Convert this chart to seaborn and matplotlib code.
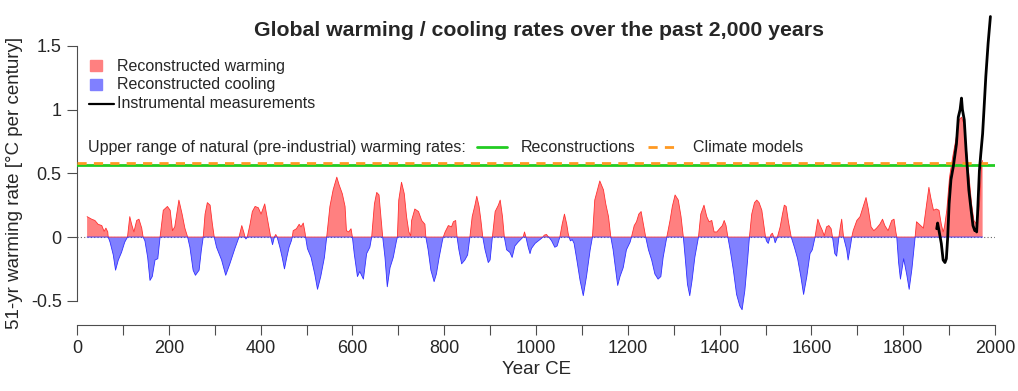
import numpy as np
import matplotlib
matplotlib.use("Agg")
import matplotlib.pyplot as plt
import seaborn as sns
from matplotlib.patches import Rectangle
from matplotlib.lines import Line2D

# 51-yr warming rates (deg C per century)
rec_years = [22, 32, 39, 46, 54, 59, 63, 67, 68,
             72, 79, 84, 90, 97, 104, 110,
             115, 119, 124, 130, 135, 141, 144,
             148, 154, 159, 164, 170, 176, 181,
             188, 197, 203, 208, 213, 222, 229, 235, 241,
             246, 253, 258, 266, 271, 275,
             279, 284, 290, 295, 299,
             304, 315, 324, 333, 344, 353,
             359, 364, 366, 368, 371,
             377, 382, 388, 395, 401, 409, 415, 422,
             426, 430, 433, 436,
             442, 447, 452, 457, 462, 467, 469,
             471, 478, 484, 488, 493, 497, 498,
             502, 510, 518, 524, 531, 539, 544,
             551, 558, 566, 571, 578, 584, 587, 592, 597, 600,
             604, 611, 616, 624, 631, 638, 642,
             648, 653, 658, 662, 666,
             671, 676, 682, 689, 696, 698,
             701, 707, 713, 718, 723, 727, 729, 736, 744, 751, 758, 760,
             765, 771, 778, 783, 789, 796, 798,
             802, 809, 816, 820, 825, 828,
             832, 838, 845, 851, 856,
             861, 867, 871, 876, 880, 884,
             889, 896, 900, 905,
             911, 918, 922, 927, 931,
             936, 943, 948, 954, 961, 969, 972,
             975, 978,
             983, 987, 990, 998, 1005, 1012, 1015,
             1018, 1023, 1026, 1028,
             1034, 1041, 1046, 1052,
             1057, 1062, 1067, 1070, 1072,
             1075, 1079, 1083, 1089, 1096, 1103, 1110, 1118, 1123,
             1128, 1134, 1139, 1147, 1152, 1158, 1163,
             1168, 1173, 1178, 1183, 1190, 1197, 1205, 1208,
             1214, 1219, 1224, 1229, 1234, 1239,
             1245, 1252, 1259, 1266, 1272, 1277, 1285,
             1292, 1297, 1303, 1310, 1316, 1321,
             1325, 1330, 1335, 1340, 1346, 1354,
             1359, 1366, 1372, 1377, 1383, 1388, 1394, 1401, 1406, 1410, 1414, 1418,
             1423, 1430, 1437, 1444, 1449, 1455, 1461, 1465,
             1470, 1476, 1481, 1486, 1492, 1497, 1500,
             1502, 1506, 1510, 1512, 1515, 1518, 1521, 1524, 1526,
             1532, 1537, 1541, 1545, 1550, 1556,
             1563, 1570, 1577, 1583, 1590, 1597, 1602, 1608,
             1614, 1619, 1624, 1628, 1633, 1638, 1643, 1646,
             1651, 1655, 1660,
             1663, 1666, 1670,
             1677, 1680, 1686, 1688,
             1691, 1699, 1706, 1713, 1719, 1724, 1730, 1736, 1742, 1749, 1755,
             1760, 1767, 1775, 1780, 1784, 1786,
             1790, 1794, 1801, 1808, 1813, 1819, 1826,
             1829, 1835, 1844, 1851, 1856, 1860, 1866, 1872, 1878, 1883, 1887,
             1890, 1895, 1901, 1908, 1916, 1922, 1927, 1932, 1938, 1944, 1949,
             1954, 1960, 1966, 1971, 1973]
rec_rates = [0.16, 0.14, 0.13, 0.10, 0.09, 0.045, 0.07, 0.04, 0,
             -0.04, -0.14, -0.26, -0.18, -0.12, -0.04, 0,
             0.16, 0.10, 0.04, 0.13, 0.14, 0.07, 0,
             -0.03, -0.16, -0.34, -0.31, -0.18, -0.17, 0,
             0.21, 0.24, 0.21, 0.05, 0.08, 0.29, 0.18, 0.07, 0,
             -0.08, -0.26, -0.30, -0.26, -0.10, 0,
             0.18, 0.27, 0.25, 0.10, 0,
             -0.08, -0.18, -0.30, -0.21, -0.09, 0,
             0.09, 0.03, 0, -0.015, 0,
             0.10, 0.20, 0.24, 0.23, 0.18, 0.26, 0.14, 0,
             -0.06, 0, 0.02, 0,
             -0.08, -0.16, -0.25, -0.16, -0.08, -0.03, 0,
             0.05, 0.065, 0.10, 0.08, 0.11, 0.03, 0,
             -0.09, -0.16, -0.29, -0.41, -0.31, -0.16, 0,
             0.24, 0.37, 0.47, 0.41, 0.34, 0.24, 0.05, 0.04, 0.065, 0,
             -0.13, -0.31, -0.27, -0.33, -0.13, -0.08, 0,
             0.26, 0.35, 0.33, 0.16, 0,
             -0.16, -0.39, -0.24, -0.16, -0.03, 0,
             0.29, 0.43, 0.34, 0.16, 0.04, 0.01, 0.13, 0.22, 0.20, 0.13, 0.10, 0,
             -0.10, -0.26, -0.35, -0.29, -0.16, -0.03, 0,
             0.04, 0.09, 0.08, 0.12, 0.13, 0,
             -0.10, -0.21, -0.18, -0.14, 0,
             0.16, 0.25, 0.32, 0.24, 0.13, 0,
             -0.10, -0.20, -0.18, 0,
             0.20, 0.25, 0.29, 0.16, 0,
             -0.10, -0.12, -0.16, -0.07, -0.04, -0.01, 0,
             0.04, 0,
             -0.08, -0.13, -0.09, -0.05, -0.03, -0.01, 0,
             0.015, 0.02, 0.005, 0,
             -0.03, -0.08, -0.07, 0,
             0.10, 0.18, 0.10, 0.03, 0,
             -0.03, -0.02, -0.05, -0.18, -0.34, -0.46, -0.31, -0.10, 0,
             0.29, 0.37, 0.44, 0.37, 0.26, 0.16, 0,
             -0.10, -0.24, -0.38, -0.31, -0.24, -0.10, -0.04, 0,
             0.09, 0.12, 0.18, 0.20, 0.10, 0,
             -0.10, -0.18, -0.29, -0.33, -0.31, -0.16, 0,
             0.13, 0.24, 0.33, 0.29, 0.16, 0,
             -0.16, -0.37, -0.46, -0.34, -0.16, 0,
             0.18, 0.25, 0.16, 0.12, 0.13, 0.04, 0.04, 0.07, 0.09, 0.13, 0.09, 0,
             -0.10, -0.26, -0.45, -0.54, -0.57, -0.42, -0.18, 0,
             0.18, 0.27, 0.29, 0.27, 0.21, 0.08, 0,
             -0.03, -0.05, 0, 0.02, 0.03, 0, -0.045, -0.02, 0,
             0.08, 0.18, 0.25, 0.24, 0.12, 0,
             -0.08, -0.17, -0.31, -0.45, -0.31, -0.13, -0.10, 0,
             0.14, 0.09, 0.05, 0.01, 0.08, 0.09, 0.065, 0,
             -0.13, -0.15, 0,
             0.08, 0.14, 0,
             -0.10, -0.18, -0.05, 0,
             0.05, 0.13, 0.16, 0.24, 0.31, 0.22, 0.08, 0.05, 0.07, 0.10, 0.14,
             0.09, 0.05, 0.13, 0.14, 0.04, 0,
             -0.20, -0.33, -0.17, -0.30, -0.41, -0.25, 0,
             0.12, 0.10, 0.07, 0.26, 0.39, 0.31, 0.21, 0.22, 0.21, 0.10, 0.04,
             0.08, 0.21, 0.47, 0.63, 0.79, 0.92, 0.94, 0.89, 0.68, 0.45, 0.26,
             0.13, 0.10, 0.24, 0.58, 0.60]

# instrumental 51-yr rates
inst_years = [1873, 1875, 1878, 1883, 1887, 1891, 1894, 1897, 1900, 1904, 1909,
              1916, 1920, 1924, 1927, 1929, 1933, 1937, 1943, 1948, 1952, 1956,
              1958, 1960, 1962, 1966, 1969, 1973, 1976, 1980, 1985, 1990]
inst_rates = [0.065, 0.11, 0.05, -0.05, -0.18, -0.20, -0.17, 0.0, 0.26, 0.45, 0.55,
              0.73, 0.94, 1.0, 1.09, 1.0, 0.92, 0.68, 0.37, 0.21, 0.09, 0.05,
              0.06, 0.04, 0.18, 0.52, 0.65, 0.81, 1.0, 1.26, 1.52, 1.73]

# upper range of natural warming rates
upper_recon = 0.563
upper_models = 0.584

yticks = [-0.5, 0, 0.5, 1, 1.5]
ytick_labels = ["-0.5", "0", "0.5", "1", "1.5"]
xticks_major = list(range(0, 2001, 200))
xticks_minor = list(range(100, 2000, 200))

sns.set_theme(style="white")
plt.rcParams['font.family'] = ['Liberation Sans', 'DejaVu Sans']

W, H = 1018, 391
fig = plt.figure(figsize=(W / 100, H / 100), dpi=100)
ax = fig.add_axes([77 / W, (H - 325) / H, (995 - 77) / W, (325 - 7.6) / H])

yrs = np.array(rec_years, dtype=float)
rts = np.array(rec_rates, dtype=float)
dash = (0, (3.3, 2.6))

ax.plot([0, 2000], [0, 0], color="0.4", lw=0.8, ls=(0, (1, 2)), zorder=1)
ax.fill_between(yrs, rts, 0, where=rts >= 0, interpolate=True,
                color="#ff8080", lw=0, zorder=2)
ax.fill_between(yrs, rts, 0, where=rts <= 0, interpolate=True,
                color="#8080ff", lw=0, zorder=2)
ax.plot(yrs, np.maximum(rts, 0), color="#ff3030", lw=0.6, zorder=3)
ax.plot(yrs, np.minimum(rts, 0), color="#3030ff", lw=0.6, zorder=3)

ax.axhline(upper_recon, xmin=0, xmax=1, color="#22cc22", lw=2, zorder=4)
ax.axhline(upper_models, xmin=0, xmax=1, color="#ff9922", lw=2, ls=dash, zorder=4)

sns.lineplot(x=inst_years, y=inst_rates, ax=ax, color="black", lw=2,
             sort=False, estimator=None, zorder=5)

ax.set_xlim(0, 2000)
ax.set_ylim(-0.69, 1.80)
ax.set_yticks(yticks)
ax.set_yticklabels(ytick_labels)
ax.set_xticks(xticks_major)
ax.set_xticks(xticks_minor, minor=True)
ax.set_xticklabels([str(v) for v in xticks_major])
ax.tick_params(axis="both", which="both", direction="out", length=7,
               width=0.8, color="0.3", labelsize=13, pad=4, left=True, bottom=True)
ax.tick_params(axis="x", which="minor", length=7)
for s in ["top", "right"]:
    ax.spines[s].set_visible(False)
ax.spines["left"].set_bounds(-0.5, 1.5)
ax.spines["bottom"].set_bounds(0, 2000)
for s in ["left", "bottom"]:
    ax.spines[s].set_color("0.3")
    ax.spines[s].set_linewidth(0.8)
ax.grid(False)
ax.set_xlabel("")
ax.set_ylabel("")


def fx(px):
    return px / W


def fy(py):
    return (H - py) / H


fig.text(fx(15), fy(183), "51-yr warming rate [°C per century]", rotation=90,
         ha="center", va="center", fontsize=13.5)
fig.text(fx(537), fy(370), "Year CE", ha="center", va="center", fontsize=13.5)
fig.text(fx(539), fy(30), "Global warming / cooling rates over the past 2,000 years",
         ha="center", va="center", fontsize=15.3, fontweight="bold")

leg_fs = 11.5
fig.patches.append(Rectangle((fx(90), fy(71)), fx(12), 11 / H, color="#ff8080",
                             transform=fig.transFigure, figure=fig))
fig.text(fx(117), fy(66), "Reconstructed warming", va="center", fontsize=leg_fs)
fig.patches.append(Rectangle((fx(90), fy(90)), fx(12), 11 / H, color="#8080ff",
                             transform=fig.transFigure, figure=fig))
fig.text(fx(117), fy(85), "Reconstructed cooling", va="center", fontsize=leg_fs)
fig.lines.append(Line2D([fx(89), fx(114)], [fy(104), fy(104)], color="black", lw=1.6,
                        transform=fig.transFigure, figure=fig))
fig.text(fx(117), fy(104), "Instrumental measurements", va="center", fontsize=leg_fs)

fig.text(fx(88), fy(148), "Upper range of natural (pre-industrial) warming rates:",
         va="center", fontsize=leg_fs)
fig.lines.append(Line2D([fx(477), fx(507)], [fy(147), fy(147)], color="#22cc22", lw=2,
                        transform=fig.transFigure, figure=fig))
fig.text(fx(521), fy(148), "Reconstructions", va="center", fontsize=leg_fs)
fig.lines.append(Line2D([fx(648), fx(674)], [fy(147), fy(147)], color="#ff9922", lw=2,
                        ls=dash, transform=fig.transFigure, figure=fig))
fig.text(fx(693), fy(148), "Climate models", va="center", fontsize=leg_fs)

fig.savefig("out.png", dpi=100)
